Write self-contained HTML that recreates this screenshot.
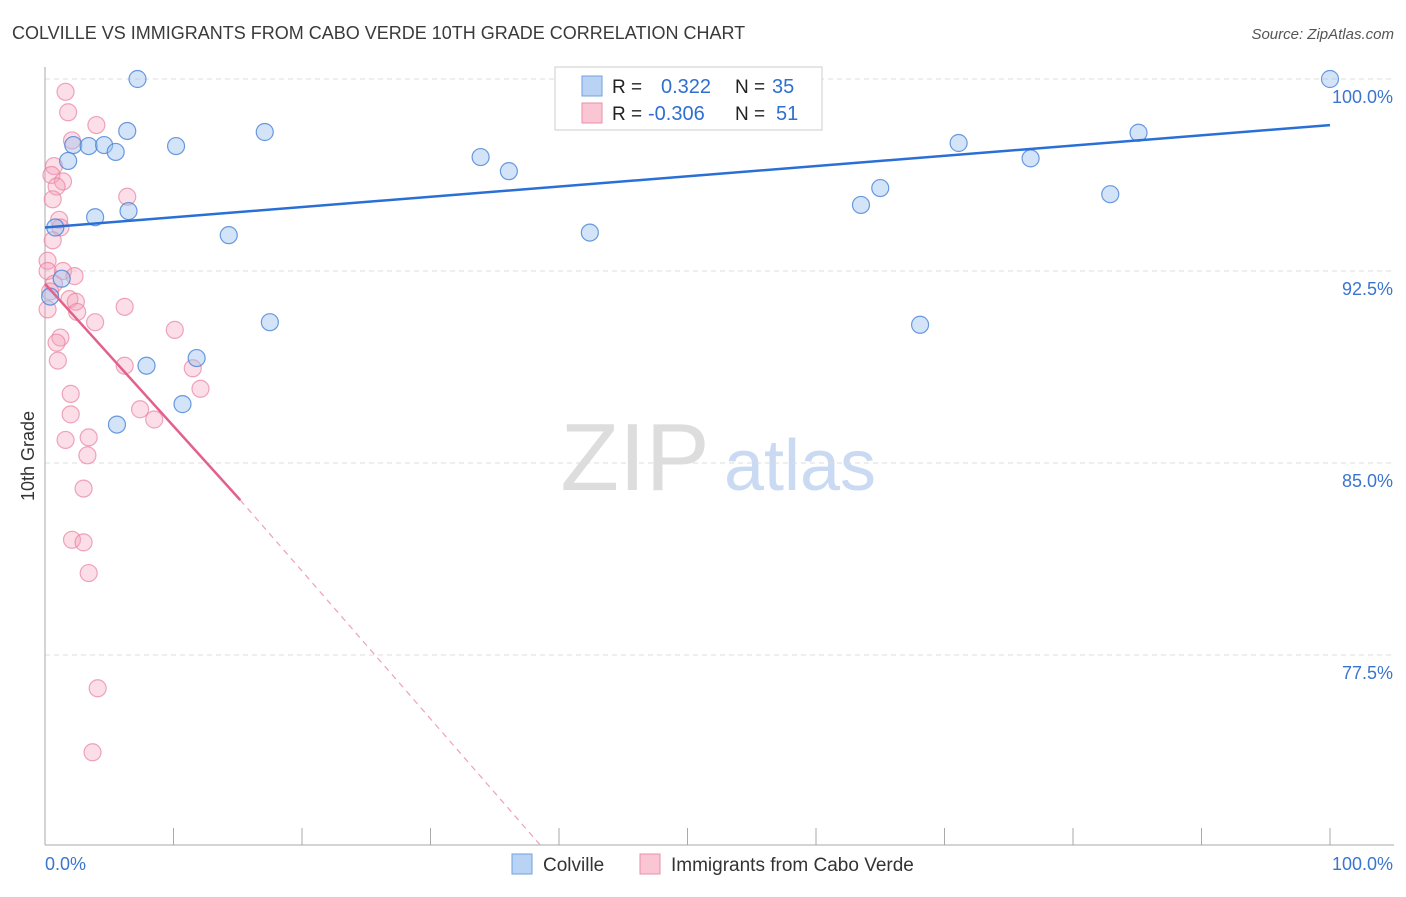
<!DOCTYPE html>
<html><head><meta charset="utf-8"><style>
body{margin:0;background:#fff;font-family:"Liberation Sans",sans-serif;}
svg text{font-family:"Liberation Sans",sans-serif;}
</style></head><body>
<svg width="1406" height="892" xmlns="http://www.w3.org/2000/svg" id="chart">
<text x="12" y="39" font-size="18" fill="#3a3a3a">COLVILLE VS IMMIGRANTS FROM CABO VERDE 10TH GRADE CORRELATION CHART</text>
<text x="1394" y="39" font-size="15" fill="#555" font-style="italic" text-anchor="end">Source: ZipAtlas.com</text>
<text x="34" y="456" font-size="18" fill="#333" text-anchor="middle" transform="rotate(-90 34 456)">10th Grade</text>
<g><text x="635" y="490" font-size="96" fill="#ddd" font-family="Liberation Serif" text-anchor="middle">ZIP</text><text x="800" y="490" font-size="72" fill="#c9daf2" text-anchor="middle">atlas</text></g>
<g id="grid"></g><g id="axes"></g><g id="marks"></g>
<g>
<rect x="555" y="67" width="267" height="63" fill="#fff" stroke="#ccc"/>
<rect x="582" y="76" width="20" height="20" fill="#b9d3f5" stroke="#6fa0e0"/>
<rect x="582" y="103" width="20" height="20" fill="#fac6d4" stroke="#e98fab"/>
<text x="612" y="93" font-size="19" fill="#222">R = </text><text x="661" y="93" font-size="20" fill="#2f6fd0">0.322</text>
<text x="735" y="93" font-size="19" fill="#222">N = </text><text x="772" y="93" font-size="20" fill="#2f6fd0">35</text>
<text x="612" y="120" font-size="19" fill="#222">R = </text><text x="648" y="120" font-size="20" fill="#2f6fd0">-0.306</text>
<text x="735" y="120" font-size="19" fill="#222">N = </text><text x="776" y="120" font-size="20" fill="#2f6fd0">51</text>
</g>
<g>
<rect x="512" y="854" width="20" height="20" fill="#b9d3f5" stroke="#6fa0e0"/>
<text x="543" y="871" font-size="19" fill="#333">Colville</text>
<rect x="640" y="854" width="20" height="20" fill="#fac6d4" stroke="#e98fab"/>
<text x="671" y="871" font-size="19" fill="#333">Immigrants from Cabo Verde</text>
</g>
</svg>
<script>
const yTicks=[100,92.5,85,77.5];
const yTickLabels=["100.0%","92.5%","85.0%","77.5%"];
const xEndLabels=["0.0%","100.0%"];
const blueX=[7.2,40.5,46.0,53.4,100,6.4,17.1,2.2,3.4,4.6,5.5,10.2,1.8,33.9,36.1,71.1,76.7,85.1,65.0,63.5,82.9,3.9,6.5,0.8,14.3,42.4,1.3,0.4,17.5,68.1,11.8,7.9,10.7,5.6];
const blueY=[100,100,100,100,100,97.97,97.93,97.42,97.38,97.42,97.15,97.38,96.8,96.95,96.4,97.5,96.9,97.9,95.74,95.08,95.5,94.6,94.84,94.2,93.9,94.0,92.2,91.5,90.5,90.4,89.1,88.8,87.3,86.5];
const pinkX=[1.6,1.8,4.0,2.1,0.7,0.5,1.4,0.9,6.4,0.6,1.1,1.2,0.6,0.2,0.2,1.4,2.3,0.7,0.4,1.9,2.4,2.5,6.2,3.9,0.2,10.1,1.2,0.9,1.0,6.2,11.5,12.1,2.0,7.4,8.5,2.0,3.4,1.6,3.3,3.0,2.1,3.0,3.4,4.1,3.7];
const pinkY=[99.5,98.7,98.2,97.6,96.6,96.25,96.0,95.8,95.4,95.3,94.5,94.2,93.7,92.9,92.5,92.5,92.3,92.0,91.7,91.4,91.3,90.9,91.1,90.5,91.0,90.2,89.9,89.7,89.0,88.8,88.7,87.9,87.7,87.1,86.7,86.9,86.0,85.9,85.3,84.0,82.0,81.9,80.7,76.2,73.7];
const blueTrend=[[0,94.2],[100,98.2]];
const pinkTrendSolid=[[0,92.0],[15.2,83.55]];
const pinkTrendDash=[[15.2,83.55],[38.5,70.1]];
const X0=45,X1=1330,Y0=79,PXPER=25.6;
const sx=v=>X0+(X1-X0)*v/100;
const sy=v=>Y0+(100-v)*PXPER;
const NS="http://www.w3.org/2000/svg";
function mk(parent,tag,attrs){const e=document.createElementNS(NS,tag);for(const k in attrs)e.setAttribute(k,attrs[k]);document.getElementById(parent).appendChild(e);return e;}
yTicks.forEach((t,i)=>{
 const l=mk('grid','line',{x1:45,x2:1394,y1:sy(t),y2:sy(t),stroke:'#ddd','stroke-dasharray':'5,4'});
 
 
 const tx=mk('axes','text',{x:1393,y:sy(t)+24,'font-size':18,fill:'#3a75d0','text-anchor':'end'});
 tx.textContent=yTickLabels[i];
 
 
});
const ax=mk('axes','line',{x1:45,x2:45,y1:67,y2:845,stroke:'#aaa'});


const bx=mk('axes','line',{x1:45,x2:1394,y1:845,y2:845,stroke:'#aaa'});


for(let i=0;i<=10;i++){const t=mk('axes','line',{x1:sx(i*10),x2:sx(i*10),y1:828,y2:845,stroke:'#aaa'});
 
 }
[[45,'start'],[1393,'end']].forEach((p,i)=>{const t=mk('axes','text',{x:p[0],y:870,'font-size':18,fill:'#3a75d0','text-anchor':p[1]});t.textContent=xEndLabels[i];
 
 });
pinkX.forEach((x,i)=>{const c=mk('marks','circle',{cx:sx(x),cy:sy(pinkY[i]),r:8.5,fill:'rgba(244,160,185,0.35)',stroke:'rgba(232,130,160,0.7)','stroke-width':1.2});
 
 });
blueX.forEach((x,i)=>{const c=mk('marks','circle',{cx:sx(x),cy:sy(blueY[i]),r:8.5,fill:'rgba(160,195,240,0.45)',stroke:'rgba(70,130,215,0.8)','stroke-width':1.2});
 
 });
const bl=mk('marks','line',{x1:sx(blueTrend[0][0]),y1:sy(blueTrend[0][1]),x2:sx(blueTrend[1][0]),y2:sy(blueTrend[1][1]),stroke:'#2a6fd6','stroke-width':2.5});


const pl=mk('marks','line',{x1:sx(pinkTrendSolid[0][0]),y1:sy(pinkTrendSolid[0][1]),x2:sx(pinkTrendSolid[1][0]),y2:sy(pinkTrendSolid[1][1]),stroke:'#e4608c','stroke-width':2.5});


const pd=mk('marks','line',{x1:sx(pinkTrendDash[0][0]),y1:sy(pinkTrendDash[0][1]),x2:sx(pinkTrendDash[1][0]),y2:sy(pinkTrendDash[1][1]),stroke:'#f0a0b8','stroke-width':1.2,'stroke-dasharray':'6,5'});


</script>
</body></html>
